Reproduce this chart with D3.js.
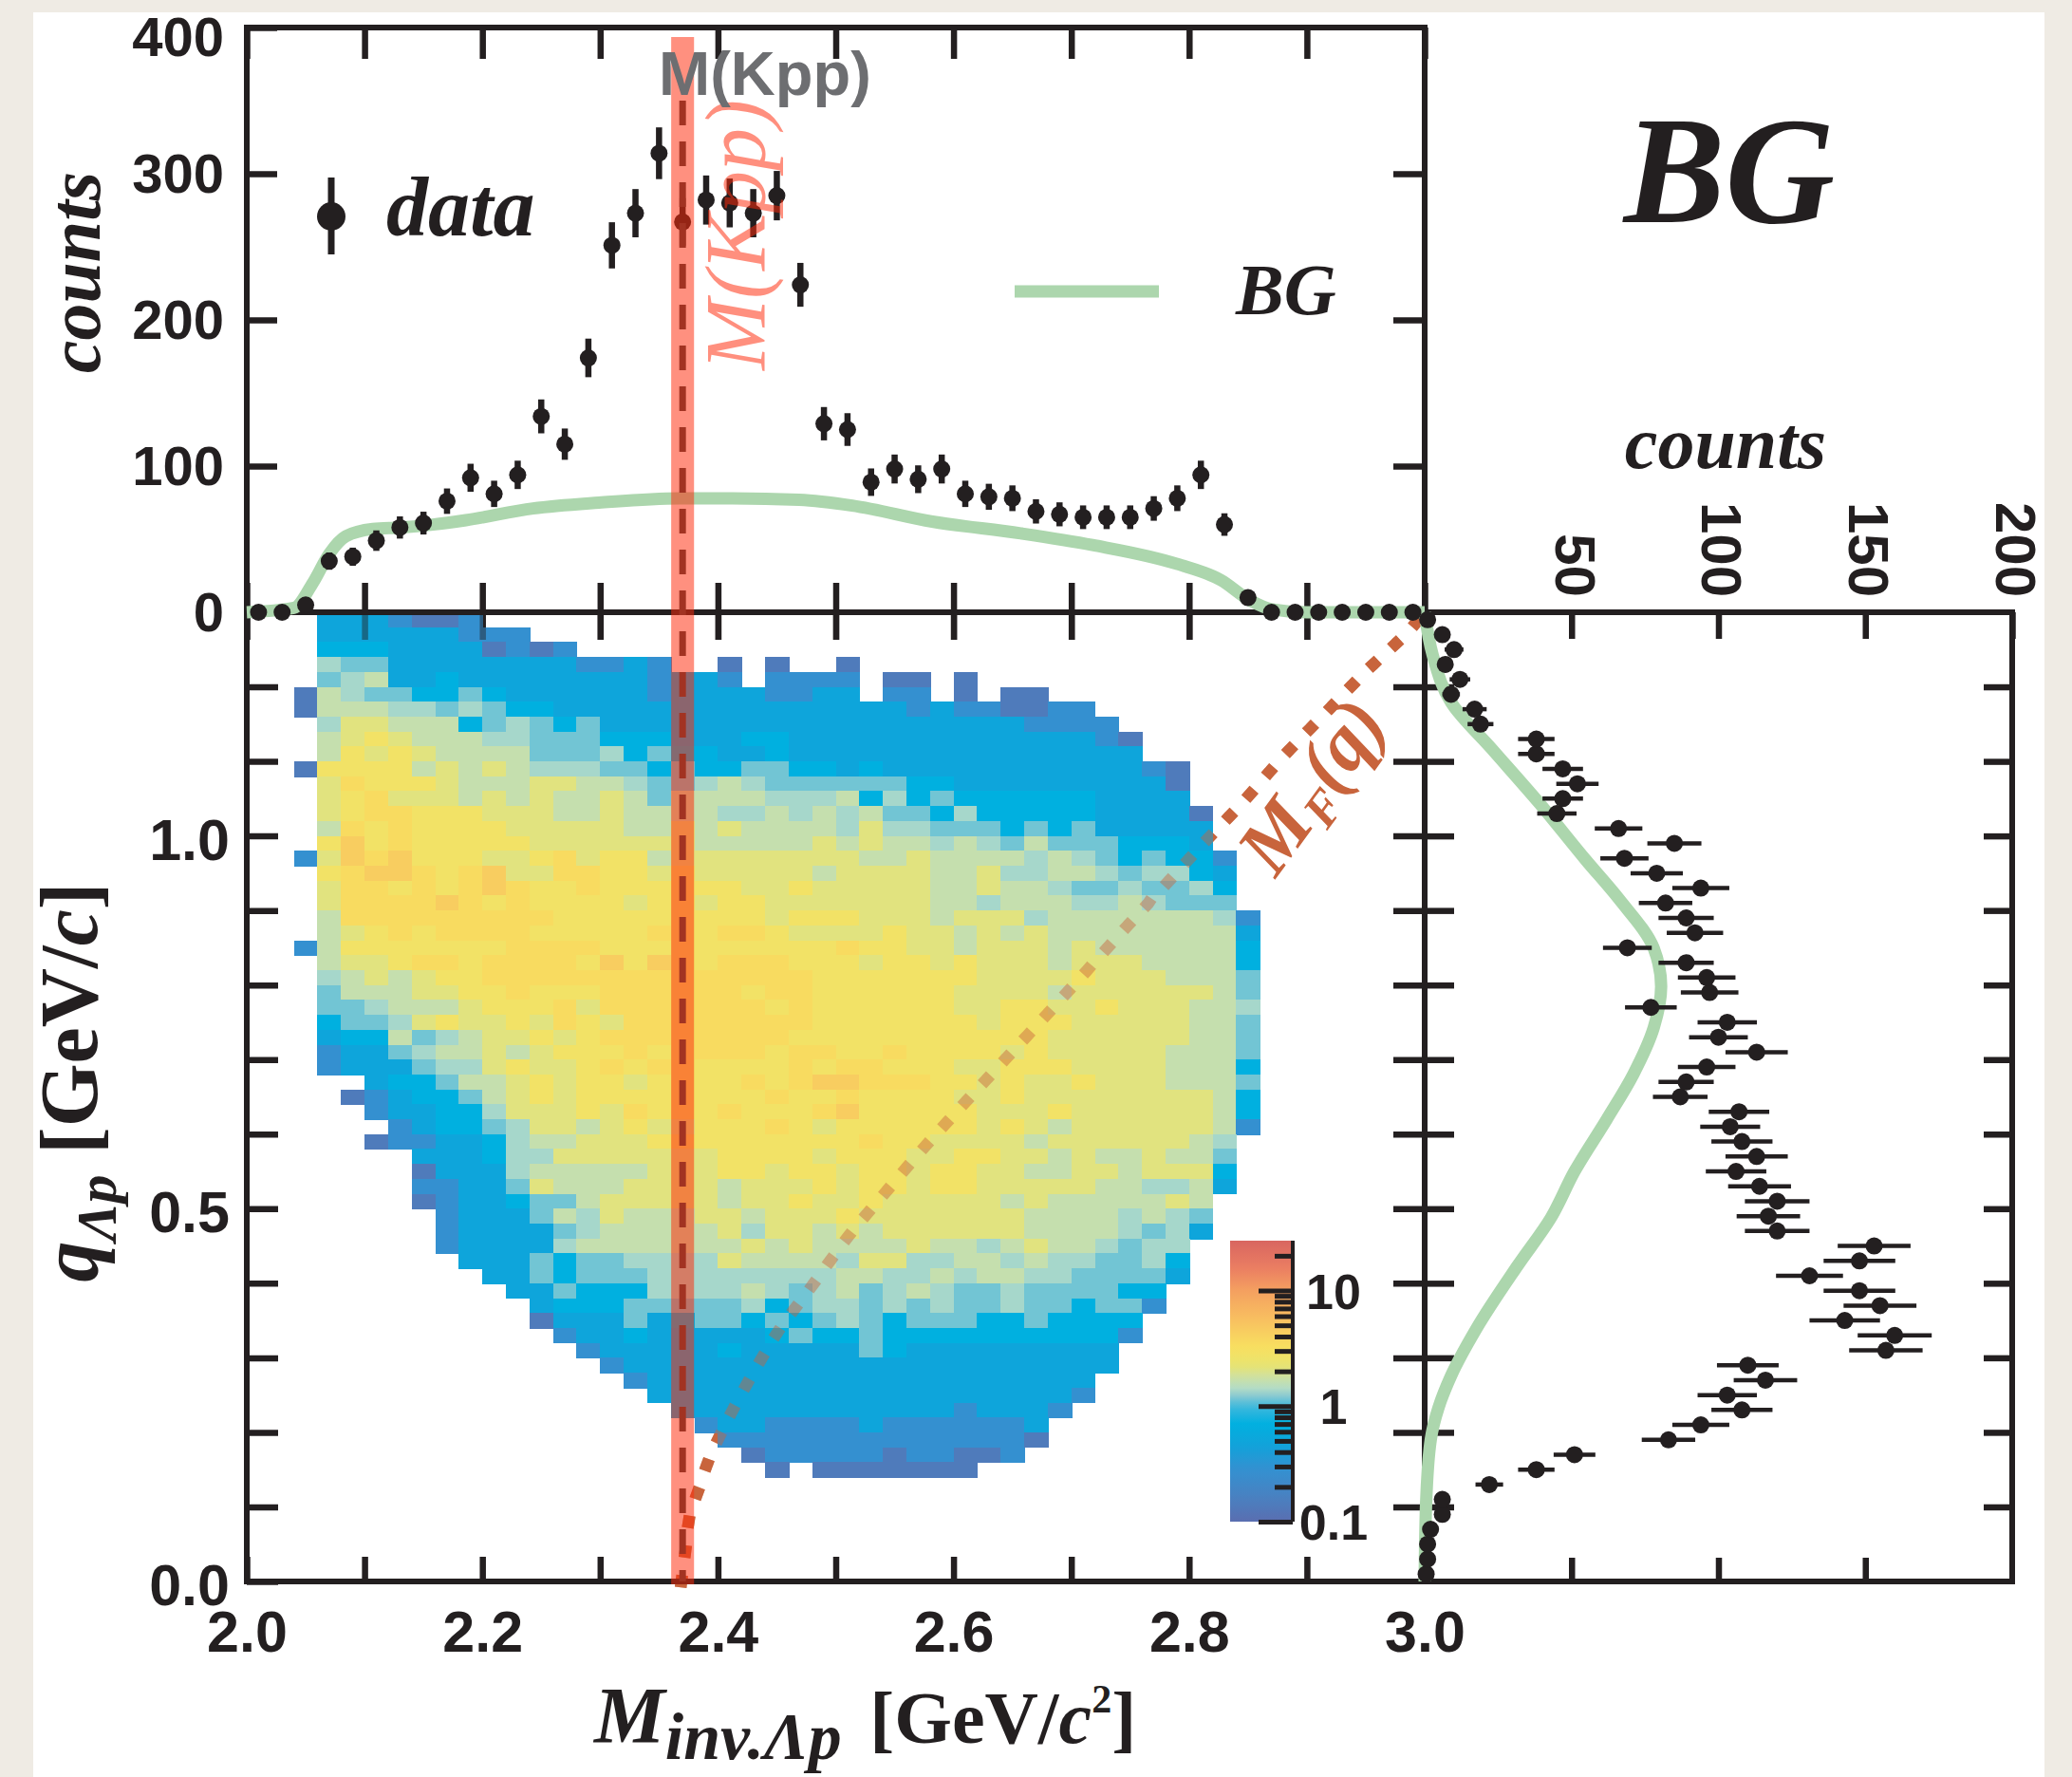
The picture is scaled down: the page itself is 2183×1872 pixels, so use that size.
<!DOCTYPE html>
<html><head><meta charset="utf-8">
<script src="https://cdn.jsdelivr.net/npm/d3@7/dist/d3.min.js"></script>
<style>
html,body{margin:0;padding:0;background:#efebe4;}
svg{display:block;}
</style></head>
<body>
<svg id="chart" width="2183" height="1872"></svg>
<script>
// ---------------- DATA ----------------
const massBins = [2.01,2.03,2.05,2.07,2.09,2.11,2.13,2.15,2.17,2.19,2.21,2.23,2.25,2.27,2.29,2.31,2.33,2.35,2.37,2.39,
  2.41,2.43,2.45,2.47,2.49,2.51,2.53,2.55,2.57,2.59,2.61,2.63,2.65,2.67,2.69,2.71,2.73,2.75,2.77,2.79,
  2.81,2.83,2.85,2.87,2.89,2.91,2.93,2.95,2.97,2.99];
const topCounts = [0,0,5,35,38,49,58,61,76,92,81,94,134,115,174,251,273,314,267,282,
  280,273,285,224,129,125,89,98,91,98,81,79,78,69,67,65,65,65,71,78,
  94,60,10,0,0,0,0,0,0,0];
const topErrors = [0,0,2.2,5.9,6.2,7.0,7.6,7.8,8.7,9.6,9.0,9.7,11.6,10.7,13.2,15.8,16.5,17.7,16.3,16.8,
  16.7,16.5,16.9,15.0,11.4,11.2,9.4,9.9,9.5,9.9,9.0,8.9,8.8,8.3,8.2,8.1,8.1,8.1,8.4,8.8,
  9.7,7.7,3.2,0,0,0,0,0,0,0];

const qBins = [0.01,0.03,0.05,0.07,0.09,0.11,0.13,0.15,0.17,0.19,0.21,0.23,0.25,0.27,0.29,0.31,0.33,0.35,0.37,0.39,
  0.41,0.43,0.45,0.47,0.49,0.51,0.53,0.55,0.57,0.59,0.61,0.63,0.65,0.67,0.69,0.71,0.73,0.75,0.77,0.79,
  0.81,0.83,0.85,0.87,0.89,0.91,0.93,0.95,0.97,0.99,1.01,1.03,1.05,1.07,1.09,1.11,1.13,1.15,1.17,1.19,
  1.21,1.23,1.25,1.27,1.29];
const qCounts = [0.5,1,1,2,6,6,22,38,51,83,94,108,103,116,110,157,160,143,155,148,
  131,148,153,120,117,120,114,106,113,108,104,107,87,89,96,113,100,103,77,97,
  96,89,69,92,89,82,94,79,68,85,66,45,47,52,47,38,38,19,17,9,
  12,7,10,6,1];
const qErrors = [0.7,1,1,1.4,2.4,2.4,4.7,6.2,7.1,9.1,9.7,10.4,10.1,10.8,10.5,12.5,12.6,12.0,12.4,12.2,
  11.4,12.2,12.4,11.0,10.8,11.0,10.7,10.3,10.6,10.4,10.2,10.3,9.3,9.4,9.8,10.6,10.0,10.1,8.8,9.8,
  9.8,9.4,8.3,9.6,9.4,9.1,9.7,8.9,8.2,9.2,8.1,6.7,6.9,7.2,6.9,6.2,6.2,4.4,4.1,3.0,
  3.5,2.6,3.2,2.4,1.0];

// BG (simulated background) projections
const bgTopMass   = [2.000,2.040,2.056,2.070,2.084,2.107,2.130,2.158,2.186,2.243,2.299,2.367,2.412,2.469,2.514,2.582,2.657,2.718,2.790,2.827,2.852,2.870,2.900,3.000];
const bgTopCounts = [0,3,20,40,52,57,58,60,63,71,75,78,78,77,73,62,54,46,33,22,8,2,0,0];
const bgRightQ      = [0.0,0.106,0.191,0.233,0.276,0.339,0.424,0.488,0.55,0.62,0.68,0.743,0.798,0.849,0.916,0.967,1.044,1.116,1.179,1.243,1.30];
const bgRightCounts = [0,0.5,2.1,4.7,9,17.6,31.7,43,51,62,71,78,80.5,78,66,55,39,23,9,2.7,0];

// M_F(q) kinematic line
const mfMass = [2.369,2.3727,2.376,2.384,2.392,2.402,2.4136,2.4257,2.4378,2.451,2.481,2.510,2.5426,2.575,2.609,2.6425,2.677,2.7105,2.744,2.7776,2.812,2.846,2.879,2.914,2.949,2.9853,3.0];
const mfQ    = [0,0.045,0.087,0.125,0.162,0.197,0.233,0.268,0.301,0.335,0.399,0.4615,0.5226,0.582,0.641,0.698,0.7566,0.8146,0.873,0.9305,0.9896,1.046,1.105,1.162,1.219,1.273,1.30];

const kppMass = 2.370;

// 2D histogram: each row = [first mass-bin index, level codes]; rows from q=1.29 down to q=0.15
const heatLevels = {"1":0.14,"2":0.28,"3":0.5,"4":0.7,"5":1.15,"6":1.35,"7":1.65,"8":2.1,"9":2.8,"a":3.5,"b":4.5};
const heatRows = [
 [3,"3332112"],
 [3,"333333222"],
 [3,"44433331212"],
 [3,"655"+"33333333"+"2232"+"..1.1..1"],
 [3,"567"+"334"+"33333333"+"2332"+"."+"2222"+"."+"11"+"."+"1"],
 [2,"1"+"76554454"+"333333"+"2"+"3333"+"2233"+"."+"22"+"."+"1"+"."+"11"],
 [2,"1"+"77766565"+"44"+"333333333"+"333333"+"2322"+"11"+"22"],
 [3,"688777"+"456545"+"3333333"+"33333333333"+"2222"],
 [3,"7898777"+"66"+"555"+"444"+"333"+"44"+"3333333333333"+"21"],
 [3,"798987777"+"555"+"6"+"45"+"44"+"33"+"4"+"333333333333333"],
 [2,"1"+"9999"+"78787"+"666"+"55"+"4"+"5"+"44"+"55"+"44"+"3"+"4"+"33333333333"+"21"],
 [3,"8a9998"+"777"+"88"+"77"+"6"+"55"+"676"+"555555"+"44"+"333333333"+"1"],
 [3,"89a888"+"7878"+"7787"+"5"+"7777"+"666"+"7"+"4645"+"4"+"44444"+"3333"],
 [3,"89aa999"+"888"+"77"+"8"+"7777"+"66"+"7676"+"7"+"55"+"4"+"6"+"44444"+"3333"+"1"],
 [3,"7a9a9999"+"88888"+"77"+"8787"+"777"+"6"+"866"+"555"+"4545"+"33333"],
 [3,"9b9a99999"+"8888888"+"77777"+"8787"+"7"+"6765"+"7"+"555"+"444"+"3"],
 [2,"2"+"8bab999"+"88"+"9a8"+"99"+"7"+"88888888"+"77"+"8"+"7777"+"6765"+"4544"+"2"],
 [3,"9abba9ab"+"88"+"aa99"+"89"+"88888"+"7"+"8888"+"77"+"8"+"66776"+"566"+"43"],
 [3,"8aa9a9aba"+"99a"+"999999"+"88"+"9"+"88888"+"77"+"8"+"77"+"655"+"6556"+"4"],
 [3,"8aaaaba9a"+"9999"+"899899"+"8888888"+"77"+"6777"+"66"+"76"+"555"],
 [3,"7"+"aaaaaaaaa"+"999999999"+"8"+"999"+"888"+"7"+"888"+"6"+"7"+"777777"+"6"+"2"],
 [3,"789a9aaaa"+"99999"+"a99aa"+"9"+"8888"+"9"+"88"+"7878"+"77777777"+"3"],
 [2,"2"+"7"+"9999999"+"aaaa"+"9999999"+"999"+"a"+"99"+"88"+"7"+"888"+"7"+"8"+"777777"+"4"],
 [3,"7889aa9aaaa9b9b99aaa"+"999"+"8998"+"9"+"888"+"7"+"888"+"7777"+"4"],
 [3,"6787899"+"aaaaaaaa"+"9"+"aaaaa"+"9999999"+"8888"+"9"+"888"+"777"+"5"],
 [3,"577788"+"99a999aaa9aa9aa"+"999999"+"8888"+"7"+"888888"+"7"+"5"],
 [3,"5567778"+"999a8aaa9aaa9a"+"999999"+"889988"+"9888"+"77"+"6"],
 [3,"4556"+"8988"+"98a98"+"aa9aaaaa"+"9999999"+"8999"+"88888"+"77"+"5"],
 [3,"3447567"+"88989"+"aaa"+"9"+"aaaa"+"99999999999"+"888888"+"77"+"5"],
 [3,"2335677878"+"999a99aaa9aa99a"+"9999"+"89"+"88888"+"777"+"5"],
 [3,"2333566"+"8988"+"9a9a"+"99999"+"a9aa999"+"88"+"999"+"8888"+"777"+"4"],
 [5,"3445"+"77"+"8989"+"98"+"9999"+"a"+"9abbaaa"+"99"+"8988"+"9"+"888"+"777"+"5"],
 [4,"123445"+"78"+"9899999999"+"a99a"+"9999"+"88"+"9"+"88888888"+"7"+"4"],
 [5,"233446"+"888"+"98a999a9"+"99ab"+"99999"+"888"+"9"+"888888"+"7"+"4"],
 [6,"234456"+"887898"+"8999"+"a98"+"999999"+"8987"+"888888"+"7"+"2"],
 [5,"122334"+"677888"+"999999999"+"a99"+"8888"+"7"+"888888"+"76"],
 [7,"3334"+"66"+"8888888"+"9999"+"8999"+"88"+"99"+"88"+"78778"+"77"+"5"],
 [7,"1333"+"677777"+"888"+"99"+"8"+"99"+"8"+"99"+"8"+"99"+"88"+"77"+"88"+"7"+"888"+"4"],
 [7,"2233"+"58777"+"8888"+"7"+"888"+"9899"+"899"+"88888"+"77667"+"3"],
 [7,"12334"+"557"+"88888"+"7"+"88"+"9"+"88"+"9"+"88888"+"78"+"77777"+"87"],
 [8,"2333"+"5768"+"777"+"88"+"7"+"888"+"9"+"8888888"+"7777"+"6765"],
 [8,"23333"+"56"+"77777"+"8"+"6"+"88"+"7"+"8"+"7"+"888888"+"7777"+"6563"],
 [8,"23333"+"6777777"+"7"+"8"+"7"+"8"+"7777"+"8"+"77"+"6"+"7"+"8"+"77"+"6566"],
 [9,"333"+"5455"+"6666"+"8777"+"7"+"6886"+"677"+"67"+"66"+"55"+"64"],
 [10,"33"+"54555"+"66666666"+"77"+"66"+"7"+"6"+"77"+"66"+"5555"+"3"],
 [11,"33"+"5444"+"6666"+"76"+"5675"+"676"+"55"+"6"+"5555"+"44"],
 [12,"3444"+"55555"+"6"+"4"+"566"+"5656"+"55"+"6"+"55"+"4"+"55"+"2"],
 [12,"13335"+"3"+"455"+"4"+"545"+"65"+"4"+"555"+"44"+"5"+"4444"],
 [13,"2334"+"33333"+"45445"+"4444444444"+"2"],
 [14,"2"+"33333"+"4"+"3"+"3333"+"54"+"333333333"],
 [15,"2"+"333333333333333333333"],
 [16,"2"+"3333333333333333333"],
 [17,"3"+"33333333333333333"+"2"],
 [18,"333333333333"+"2333"+"2"],
 [19,"2"+"33"+"2222"+"3"+"222222"+"3"],
 [20,"2222222222222"+"1"],
 [21,"1"+"22222"+"1"+"22"+"11"+"2"],
 [22,"1.1111111"]
];

// ticks
const massTickValues = [2.0,2.1,2.2,2.3,2.4,2.5,2.6,2.7,2.8,2.9,3.0];
const massTickLabels = ["2.0","2.2","2.4","2.6","2.8","3.0"];
const countTickValues = [0,100,200,300,400];
const qTickValues = [0,0.1,0.2,0.3,0.4,0.5,0.6,0.7,0.8,0.9,1.0,1.1,1.2];
const qTickLabels = ["0.0","0.5","1.0"];
const rightTickValues = [50,100,150,200];
const zTickMajor = [0.1,1,10];
const zTickMinor = [0.2,0.3,0.4,0.5,0.6,0.7,0.8,0.9,2,3,4,5,6,7,8,9,20];

// ---------------- STYLE / LAYOUT ----------------
const SERIF = "'Liberation Serif','Times New Roman',Times,serif";
const SANS = "'Liberation Sans',Arial,Helvetica,sans-serif";
const AX = "#231f20";
const GREEN = "#acd6ad";
const ORANGE = "#c8643c";
const X0 = 260, X1 = 1501, XR1 = 2120, YT = 29, YM = 645, YB = 1666;

const svg = d3.select("#chart");
const x = d3.scaleLinear().domain([2.0,3.0]).range([X0,X1]);
const yTop = d3.scaleLinear().domain([0,400]).range([YM,YT]);
const yQ = d3.scaleLinear().domain([0,1.3]).range([YB,YM]);
const xR = d3.scaleLinear().domain([0,200]).range([X1,XR1]);
const zY = d3.scaleLog().domain([0.1,27]).range([1603,1307]);
const colStops = [[0.1,"#5a6eb0"],[0.16,"#4a80c0"],[0.28,"#3490d0"],[0.45,"#12a2da"],[0.7,"#00b0e0"],
  [1.0,"#40b8dc"],[1.25,"#90ccd0"],[1.4,"#b0dcc8"],[1.8,"#d0e0a0"],[2.25,"#e8e470"],[3.2,"#f8e060"],
  [5.6,"#f8c060"],[10,"#f4a060"],[16,"#ea7c62"],[27,"#d86660"]];
const color = d3.scaleLog().domain(colStops.map(d=>d[0])).range(colStops.map(d=>d[1]))
  .interpolate(d3.interpolateRgb).clamp(true);

// white sheet
svg.append("rect").attr("x",35).attr("y",13).attr("width",2119).attr("height",1859).attr("fill","#ffffff");

function cleanAxis(g, w){
  g.select(".domain").remove();
  g.attr("color", AX);
  g.selectAll(".tick line").attr("stroke-width", w||6);
}

// ---- M_F(q) dotted line (under heatmap) ----
const mfLine = d3.line().x((d,i)=>x(mfMass[i])).y((d,i)=>yQ(mfQ[i])).curve(d3.curveCatmullRom);
function drawMF(op){
  svg.append("path").attr("d", mfLine(mfMass)).attr("fill","none").attr("stroke",ORANGE)
    .attr("stroke-width",12.5).attr("stroke-dasharray","0.5 31").attr("stroke-linecap","square")
    .attr("opacity",op);
}
drawMF(1);

// ticks of lower panel top border (point down into heatmap)
function midTicks(op){
  svg.append("g").attr("transform",`translate(0,${YM})`).attr("opacity",op)
    .call(d3.axisTop(x).tickValues(massTickValues).tickSize(-29).tickFormat(""))
    .call(g=>cleanAxis(g,6.5));
}
midTicks(1);

// ---- heatmap ----
const cells = [];
heatRows.forEach((row,k)=>{
  const q = qBins[64-k];
  const start = row[0], codes = row[1];
  for (let j=0;j<codes.length;j++){
    const c = codes[j];
    if (c === ".") continue;
    cells.push({m: massBins[start+j], q: q, v: heatLevels[c]});
  }
});
const cellW = x(2.02)-x(2.0), cellH = yQ(0)-yQ(0.02);
svg.append("g").attr("shape-rendering","crispEdges").selectAll("rect").data(cells).join("rect")
  .attr("x", d=>x(d.m-0.01)).attr("y", d=>yQ(d.q+0.01))
  .attr("width", cellW+0.8).attr("height", cellH+0.8)
  .attr("fill", d=>color(d.v));

drawMF(0.45);
midTicks(0.45);

// ---- frames ----
const frame = svg.append("g").attr("stroke",AX).attr("stroke-width",6).attr("stroke-linecap","square");
[[X0,YT,X1,YT],[X0,YT,X0,YB],[X1,YT,X1,YB],[X0,YM,XR1,YM],[X0,YB,XR1,YB],[XR1,YM,XR1,YB]]
  .forEach(l=>frame.append("line").attr("x1",l[0]).attr("y1",l[1]).attr("x2",l[2]).attr("y2",l[3]));

// top panel: top border ticks
svg.append("g").attr("transform",`translate(0,${YT})`)
  .call(d3.axisTop(x).tickValues(massTickValues).tickSize(-33).tickFormat("")).call(g=>cleanAxis(g,6.5));
// top panel: bottom ticks pointing up
svg.append("g").attr("transform",`translate(0,${YM})`)
  .call(d3.axisBottom(x).tickValues(massTickValues).tickSize(-31).tickFormat("")).call(g=>cleanAxis(g,6.5));
// top panel left axis with labels
svg.append("g").attr("transform",`translate(${X0},0)`)
  .call(d3.axisLeft(yTop).tickValues(countTickValues).tickSize(-32).tickPadding(24).tickFormat(d3.format("d")))
  .call(g=>{cleanAxis(g,6.5);
    g.selectAll(".tick text").attr("font-family",SANS).attr("font-weight","bold").attr("font-size",58)
     .attr("fill",AX).attr("dy", d=> d===400 ? "0.5em" : "0.34em");});
// top panel right border ticks (pointing left)
svg.append("g").attr("transform",`translate(${X1},0)`)
  .call(d3.axisLeft(yTop).tickValues([100,200,300]).tickSize(33).tickFormat("")).call(g=>cleanAxis(g,6.5));

// lower panel left axis
svg.append("g").attr("transform",`translate(${X0},0)`)
  .call(d3.axisLeft(yQ).tickValues(qTickValues).tickSize(-33).tickPadding(18)
    .tickFormat(d=> qTickLabels.includes(d.toFixed(1)) ? d.toFixed(1) : ""))
  .call(g=>{cleanAxis(g,6.5);
    g.selectAll(".tick text").attr("font-family",SANS).attr("font-weight","bold").attr("font-size",61)
     .attr("fill",AX).attr("dy","0.4em");});
// lower panel bottom axis
svg.append("g").attr("transform",`translate(0,${YB})`)
  .call(d3.axisBottom(x).tickValues(massTickValues).tickSize(-26).tickPadding(31)
    .tickFormat(d=> massTickLabels.includes(d.toFixed(1)) ? d.toFixed(1) : ""))
  .call(g=>{cleanAxis(g,6.5);
    g.selectAll(".tick text").attr("font-family",SANS).attr("font-weight","bold").attr("font-size",61)
     .attr("fill",AX).attr("dy","0.71em");});
// shared x=3.0 line ticks: left side and right side
svg.append("g").attr("transform",`translate(${X1},0)`)
  .call(d3.axisLeft(yQ).tickValues(qTickValues.slice(1)).tickSize(33).tickFormat("")).call(g=>cleanAxis(g,6.5));
svg.append("g").attr("transform",`translate(${X1},0)`)
  .call(d3.axisRight(yQ).tickValues(qTickValues.slice(1)).tickSize(31).tickFormat("")).call(g=>cleanAxis(g,6.5));
// right panel right border ticks
svg.append("g").attr("transform",`translate(${XR1},0)`)
  .call(d3.axisLeft(yQ).tickValues(qTickValues.slice(1)).tickSize(30).tickFormat("")).call(g=>cleanAxis(g,6.5));
// right panel top axis (labels rotated)
svg.append("g").attr("transform",`translate(0,${YM})`)
  .call(d3.axisTop(xR).tickValues(rightTickValues).tickSize(-28).tickFormat(d3.format("d")))
  .call(g=>{cleanAxis(g,6.5);
    g.selectAll(".tick text").attr("font-family",SANS).attr("font-weight","bold").attr("font-size",60)
     .attr("fill",AX).attr("x",0).attr("y",0).attr("dy","0.36em").attr("text-anchor","end")
     .attr("transform","translate(4,-16) rotate(90)");});
// right panel bottom ticks
svg.append("g").attr("transform",`translate(0,${YB})`)
  .call(d3.axisBottom(xR).tickValues([50,100,150]).tickSize(-25).tickFormat("")).call(g=>cleanAxis(g,6.5));

// ---- BG curves ----
const bgTopLine = d3.line().x((d,i)=>x(bgTopMass[i])).y((d,i)=>yTop(bgTopCounts[i])).curve(d3.curveMonotoneX);
svg.append("path").attr("d", bgTopLine(bgTopMass)).attr("fill","none").attr("stroke",GREEN)
  .attr("stroke-width",13).attr("stroke-linejoin","round");
const bgRightLine = d3.line().x((d,i)=>xR(bgRightCounts[i])).y((d,i)=>yQ(bgRightQ[i])).curve(d3.curveMonotoneY);
svg.append("path").attr("d", bgRightLine(bgRightQ)).attr("fill","none").attr("stroke",GREEN)
  .attr("stroke-width",13).attr("stroke-linejoin","round");

// ---- colorbar ----
const defs = svg.append("defs");
const grad = defs.append("linearGradient").attr("id","zgrad").attr("x1",0).attr("y1",1).attr("x2",0).attr("y2",0);
d3.range(0,41).forEach(i=>{
  const v = Math.exp(Math.log(0.1) + (Math.log(27)-Math.log(0.1))*i/40);
  grad.append("stop").attr("offset", i/40).attr("stop-color", color(v));
});
svg.append("rect").attr("x",1296).attr("y",zY(27)).attr("width",66).attr("height",zY(0.1)-zY(27)).attr("fill","url(#zgrad)");
svg.append("line").attr("x1",1362).attr("x2",1362).attr("y1",zY(27)).attr("y2",zY(0.1)).attr("stroke",AX).attr("stroke-width",4);
svg.append("g").attr("transform","translate(1362,0)")
  .call(d3.axisRight(zY).tickValues(zTickMinor).tickSize(-19).tickFormat("")).call(g=>cleanAxis(g,5));
svg.append("g").attr("transform","translate(1362,0)")
  .call(d3.axisRight(zY).tickValues(zTickMajor).tickSize(-36).tickFormat(d=> d<1 ? "0.1" : d3.format("d")(d)))
  .call(g=>{cleanAxis(g,5);
    g.selectAll(".tick text").attr("font-family",SANS).attr("font-weight","bold").attr("font-size",52)
     .attr("fill",AX).attr("x",43).attr("text-anchor","middle").attr("dy","0.36em");});

// ---- data points: top projection ----
const topPts = massBins.map((m,i)=>({m, c: topCounts[i], e: topErrors[i]}));
const gTop = svg.append("g").attr("fill",AX).attr("stroke",AX);
gTop.selectAll("line").data(topPts.filter(d=>d.e>0)).join("line")
  .attr("x1",d=>x(d.m)).attr("x2",d=>x(d.m)).attr("y1",d=>yTop(d.c-d.e)).attr("y2",d=>yTop(d.c+d.e))
  .attr("stroke-width",6.5);
gTop.selectAll("circle").data(topPts).join("circle")
  .attr("cx",d=>x(d.m)).attr("cy",d=>yTop(d.c)).attr("r",9).attr("stroke","none");

// ---- data points: right projection ----
const rPts = qBins.map((q,i)=>({q, c: qCounts[i], e: qErrors[i]}));
const gR = svg.append("g").attr("fill",AX).attr("stroke",AX);
gR.selectAll("line").data(rPts).join("line")
  .attr("y1",d=>yQ(d.q)).attr("y2",d=>yQ(d.q)).attr("x1",d=>xR(d.c-d.e)).attr("x2",d=>xR(d.c+d.e))
  .attr("stroke-width",4.5);
gR.selectAll("circle").data(rPts).join("circle")
  .attr("cx",d=>xR(d.c)).attr("cy",d=>yQ(d.q)).attr("r",9).attr("stroke","none");

// ---- K-pp threshold: dashed line + band ----
svg.append("line").attr("x1",x(kppMass)).attr("x2",x(kppMass)).attr("y1",106).attr("y2",YB)
  .attr("stroke","#3e3e3e").attr("stroke-width",7).attr("stroke-dasharray","26 17");
svg.append("rect").attr("x",x(kppMass-0.0097)).attr("width",x(2.0194)-x(2.0)).attr("y",39).attr("height",YB+3-39)
  .attr("fill","#ff2a0a").attr("opacity",0.52);

// ---- texts ----
// M(Kbar pp) rotated along band
const tK = svg.append("text").attr("transform","translate(806,390) rotate(-90)")
  .attr("font-family",SERIF).attr("font-style","italic").attr("font-size",90)
  .attr("fill","#ff2a0a").attr("opacity",0.52);
tK.append("tspan").text("M(");
tK.append("tspan").attr("style","text-decoration: overline").text("K");
tK.append("tspan").text("pp)");

svg.append("text").attr("x",694).attr("y",100).attr("font-family",SANS).attr("font-weight","bold")
  .attr("font-size",65).attr("fill","#6d6e71").text("M(Kpp)");

// legend
svg.append("line").attr("x1",349).attr("x2",349).attr("y1",187).attr("y2",268).attr("stroke",AX).attr("stroke-width",7);
svg.append("circle").attr("cx",349).attr("cy",228).attr("r",15).attr("fill",AX);
svg.append("text").attr("x",407).attr("y",248).attr("font-family",SERIF).attr("font-style","italic")
  .attr("font-weight","bold").attr("font-size",88).attr("fill",AX).text("data");
svg.append("line").attr("x1",1069).attr("x2",1221).attr("y1",307).attr("y2",307).attr("stroke",GREEN).attr("stroke-width",13);
svg.append("text").attr("x",1302).attr("y",331).attr("font-family",SERIF).attr("font-style","italic")
  .attr("font-weight","bold").attr("font-size",76).attr("fill",AX).text("BG");

// big title
svg.append("text").attr("x",1822).attr("y",234).attr("text-anchor","middle").attr("font-family",SERIF)
  .attr("font-style","italic").attr("font-weight","bold").attr("font-size",160).attr("fill",AX).text("BG");
// right panel axis title
svg.append("text").attr("x",1818).attr("y",493).attr("text-anchor","middle").attr("font-family",SERIF)
  .attr("font-style","italic").attr("font-weight","bold").attr("font-size",78).attr("fill",AX).text("counts");
// top-left axis title
svg.append("text").attr("transform","translate(105,287) rotate(-90)").attr("text-anchor","middle")
  .attr("font-family",SERIF).attr("font-style","italic").attr("font-weight","bold").attr("font-size",78)
  .attr("fill",AX).text("counts");

// q axis title
const tq = svg.append("text").attr("transform","translate(102,1140) rotate(-90)").attr("text-anchor","middle")
  .attr("font-family",SERIF).attr("font-weight","bold").attr("font-size",86).attr("fill",AX);
tq.append("tspan").attr("font-style","italic").text("q");
tq.append("tspan").attr("font-style","italic").attr("font-size",60).attr("dy",20).text("Λp");
tq.append("tspan").attr("dy",-20).text(" [GeV/");
tq.append("tspan").attr("font-style","italic").text("c");
tq.append("tspan").text("]");

// mass axis title
const tm = svg.append("text").attr("x",626).attr("y",1836).attr("font-family",SERIF).attr("font-weight","bold")
  .attr("font-size",78).attr("fill",AX);
tm.append("tspan").attr("font-style","italic").attr("font-size",84).text("M");
tm.append("tspan").attr("font-style","italic").attr("font-size",70).attr("dy",17).text("inv.Λp");
tm.append("tspan").attr("dy",-17).attr("dx",10).text(" [GeV/");
tm.append("tspan").attr("font-style","italic").text("c");
tm.append("tspan").attr("font-size",42).attr("dy",-32).text("2");
tm.append("tspan").attr("dy",32).text("]");

// M_F(q) label
const tf = svg.append("text").attr("transform","translate(1344,926) rotate(-54)")
  .attr("font-family",SERIF).attr("font-style","italic").attr("font-weight","bold").attr("font-size",82).attr("fill",ORANGE);
tf.append("tspan").text("M");
tf.append("tspan").attr("font-size",52).attr("dy",14).text("F");
tf.append("tspan").attr("dy",-14).text("(q)");
</script>
</body></html>
